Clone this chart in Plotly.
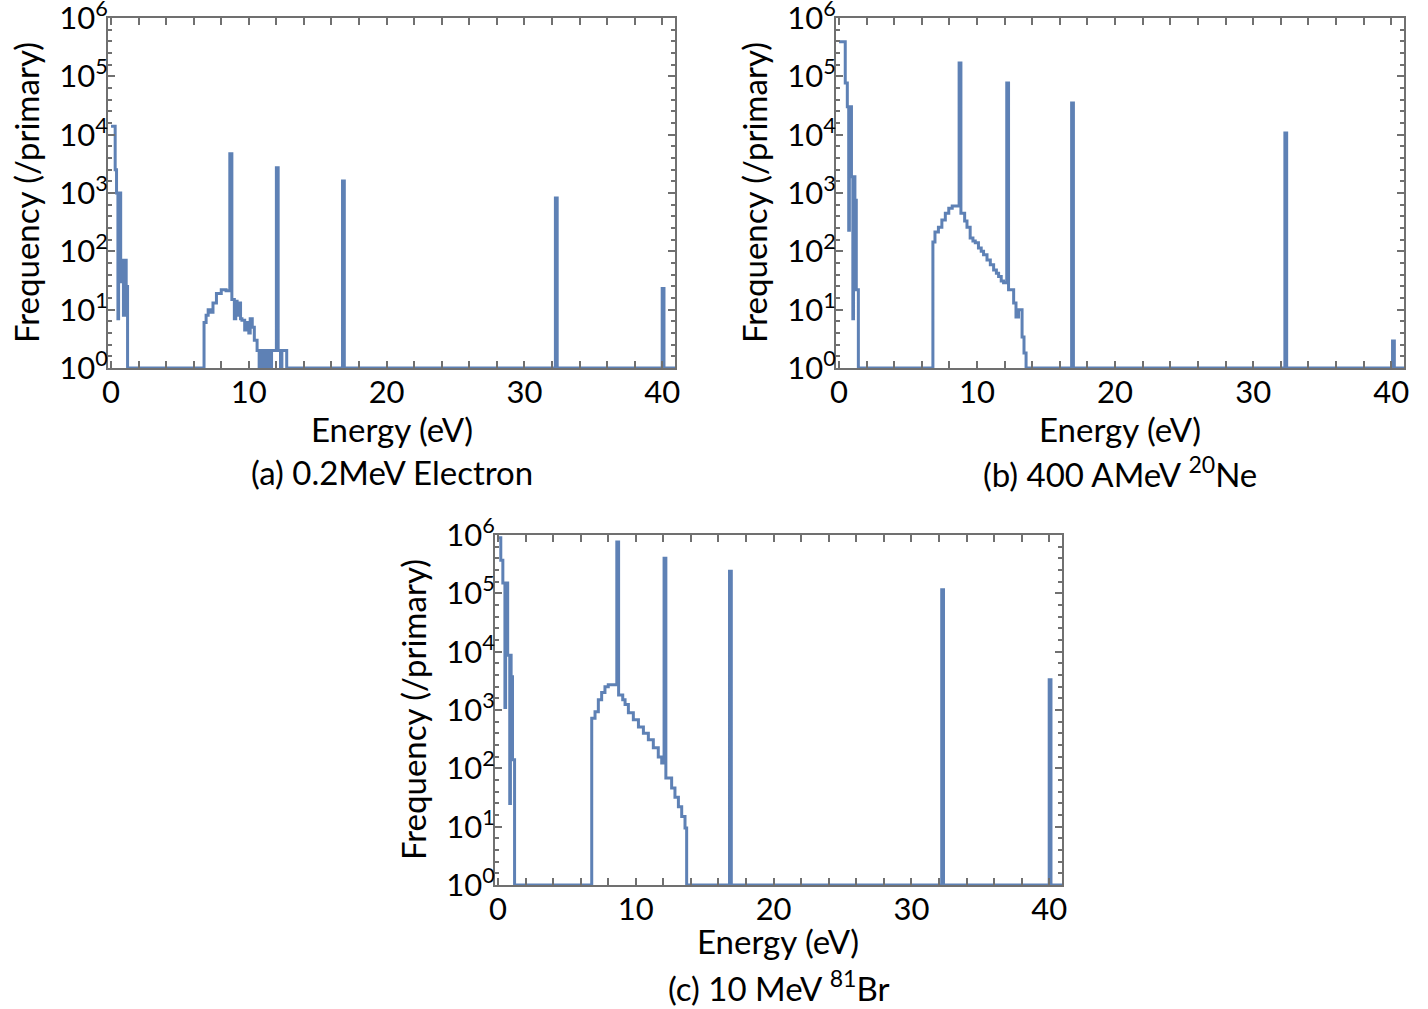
import plotly.graph_objects as go

# ---- data (step histogram: left edge of each step, frequency /primary) ----
edges_a = [0.0, 0.3, 0.4, 0.5, 0.55, 0.7, 0.8, 0.9, 1.0, 1.1, 1.2,
           6.75, 6.9, 7.05, 7.2, 7.4, 7.65, 8.0, 8.35, 8.62, 8.77, 8.95, 9.05, 9.15, 9.3, 9.4,
           9.5, 9.7, 9.9, 10.0, 10.1, 10.25, 10.4, 10.6, 10.75, 10.85, 11.0, 11.1, 11.3, 11.4,
           11.55, 11.65, 12.0, 12.13, 12.3, 12.4, 12.75,
           16.8, 16.93, 32.25, 32.38, 40.0, 40.13, 40.93]
freq_a = [14000, 2500, 1000, 7, 1000, 30, 70, 8, 70, 25, 1,
          6, 8, 10, 9, 13, 19, 22, 21, 4700, 15, 7, 14, 8, 13, 7,
          6.6, 4.5, 6, 4, 7, 5, 3, 2, 1, 2, 1, 2, 1, 2,
          1, 2, 2700, 2, 1, 2, 1,
          1600, 1, 820, 1, 23, 1, 1]

edges_b = [0.0, 0.45, 0.6, 0.7, 0.75, 0.9, 1.0, 1.05, 1.15, 1.25, 1.4,
           6.8, 6.95, 7.2, 7.45, 7.7, 7.95, 8.2, 8.7, 8.83, 9.1, 9.27, 9.5, 9.7, 9.87, 10.1,
           10.3, 10.47, 10.72, 10.96, 11.2, 11.4, 11.56, 11.75, 11.92, 12.15, 12.28, 12.65,
           12.82, 13.0, 13.26, 13.4, 13.55,
           16.85, 16.98, 32.3, 32.43, 40.1, 40.23, 40.93]
freq_b = [390000, 77000, 30000, 230, 30000, 1900, 7, 1900, 750, 22, 1,
          145, 215, 260, 345, 450, 550, 600, 170000, 450, 330, 260, 170, 150, 140, 114,
          100, 87, 71, 59, 48, 42, 37, 31, 29, 77000, 22, 13,
          7.5, 10, 3.4, 1.8, 1,
          35000, 1, 10700, 1, 2.9, 1, 1]

edges_c = [0.0, 0.2, 0.35, 0.5, 0.55, 0.7, 0.85, 0.9, 0.95, 1.05, 1.2,
           6.8, 7.04, 7.28, 7.52, 7.76, 8.0, 8.62, 8.75, 9.05, 9.22, 9.46, 9.82, 10.19,
           10.55, 10.91, 11.27, 11.63, 11.88, 12.05, 12.18, 12.6, 12.84, 13.09, 13.33, 13.57, 13.69,
           16.8, 16.93, 32.2, 32.33, 40.0, 40.13, 40.93]
freq_c = [900000, 370000, 150000, 1100, 150000, 8700, 25, 8700, 3700, 140, 1,
          720, 930, 1500, 2000, 2500, 2700, 760000, 1800, 1500, 1240, 900, 680, 510,
          400, 310, 225, 156, 123, 400000, 68, 46, 32, 22, 15, 9.5, 1,
          240000, 1, 115000, 1, 3300, 1, 1]

x_major = [0, 10, 20, 30, 40]
y_major = [1, 10, 100, 1000, 10000, 100000, 1000000]
y_labels = ["10<sup>0</sup>", "10<sup>1</sup>", "10<sup>2</sup>", "10<sup>3</sup>",
            "10<sup>4</sup>", "10<sup>5</sup>", "10<sup>6</sup>"]
captions = ["(a) 0.2MeV Electron", "(b) 400 AMeV <sup>20</sup>Ne", "(c) 10 MeV <sup>81</sup>Br"]

LINE = "#5E81B5"
FRAME = "#707070"
FONT = "Lato"
W, H = 1428, 1009

# plot boxes in pixels (left, right, top, bottom) and label offsets (title, caption)
boxes = [(108, 675, 18, 368), (836, 1404, 18, 368), (495, 1062, 535, 885)]
offsets = [(61, 104), (61, 104), (56, 101)]
minor_y = [10 ** (k * 0.2) for k in range(0, 31) if k % 5 != 0]

fig = go.Figure()
series = [(edges_a, freq_a), (edges_b, freq_b), (edges_c, freq_c)]
for i, (ex, fy) in enumerate(series):
    sfx = "" if i == 0 else str(i + 1)
    fig.add_trace(go.Scatter(x=ex, y=fy, mode="lines", line=dict(color=LINE, width=3, shape="hv"),
                             xaxis="x" + sfx, yaxis="y" + sfx, showlegend=False, hoverinfo="skip"))

layout = dict(width=W, height=H, margin=dict(l=0, r=0, t=0, b=0),
              paper_bgcolor="white", plot_bgcolor="white",
              font=dict(family=FONT, size=31, color="black"))

for i, (l, r, t, b) in enumerate(boxes):
    sfx = "" if i == 0 else str(i + 1)
    xd = [l / W, r / W]
    yd = [1 - b / H, 1 - t / H]
    layout["xaxis" + sfx] = dict(
        domain=xd, range=[-0.22, 40.93], anchor="y" + sfx, automargin=False,
        tickmode="array", tickvals=x_major, ticks="inside", ticklen=7, tickwidth=2,
        tickcolor=FRAME, showline=True, linecolor=FRAME, linewidth=2, mirror="allticks",
        showgrid=False, zeroline=False, tickfont=dict(size=31), ticklabelstandoff=-4,
        ticklabeloverflow="allow",
        minor=dict(dtick=2, tick0=0, ticks="inside", ticklen=7, tickwidth=2, tickcolor=FRAME,
                   showgrid=False))
    layout["yaxis" + sfx] = dict(
        domain=yd, type="log", range=[0, 6], anchor="x" + sfx, automargin=False,
        tickmode="array", tickvals=y_major, ticktext=y_labels,
        ticks="inside", ticklen=7, tickwidth=2, tickcolor=FRAME,
        showline=True, linecolor=FRAME, linewidth=2, mirror="allticks",
        showgrid=False, zeroline=False, tickfont=dict(size=31), ticklabelstandoff=-8,
        ticklabeloverflow="allow",
        minor=dict(tickmode="array", tickvals=minor_y, ticks="inside", ticklen=4, tickwidth=2,
                   tickcolor=FRAME, showgrid=False))

fig.update_layout(**layout)

ann = []
title_font = dict(family=FONT, size=33, color="black")
for i, (l, r, t, b) in enumerate(boxes):
    dt, dc = offsets[i]
    ann.append(dict(text="Energy (eV)", x=(l + r) / 2 / W, y=1 - (b + dt) / H, xref="paper", yref="paper",
                    showarrow=False, font=title_font, xanchor="center", yanchor="middle"))
    ann.append(dict(text="Frequency (/primary)", x=(l - 82) / W, y=1 - ((t + b) / 2) / H,
                    xref="paper", yref="paper", textangle=-90, showarrow=False, font=title_font,
                    xanchor="center", yanchor="middle"))
    ann.append(dict(text=captions[i], x=(l + r) / 2 / W, y=1 - (b + dc) / H,
                    xref="paper", yref="paper",
                    showarrow=False, font=title_font, xanchor="center", yanchor="middle"))
fig.update_layout(annotations=ann)

fig.write_html("out.html")
